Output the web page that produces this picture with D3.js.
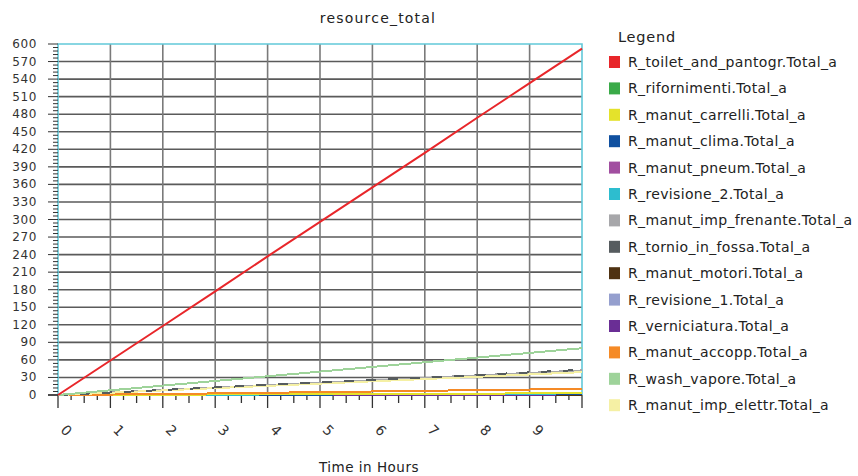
<!DOCTYPE html>
<html><head><meta charset="utf-8">
<script src="https://cdn.jsdelivr.net/npm/d3@7"></script>
<style>
html,body{margin:0;padding:0;background:#fff;}
svg{display:block;font-family:"DejaVu Sans",sans-serif;}
</style></head>
<body><svg id="c" width="858" height="476"></svg>
<script>
const title = "resource_total";
const xTitle = "Time in Hours";
const hours = [0,1,2,3,4,5,6,7,8,9,10];
const xTickLabels = ["0","1","2","3","4","5","6","7","8","9"];
const yTickValues = d3.range(0, 601, 30);

const seriesNames = [
  "R_toilet_and_pantogr.Total_a","R_rifornimenti.Total_a","R_manut_carrelli.Total_a",
  "R_manut_clima.Total_a","R_manut_pneum.Total_a","R_revisione_2.Total_a",
  "R_manut_imp_frenante.Total_a","R_tornio_in_fossa.Total_a","R_manut_motori.Total_a",
  "R_revisione_1.Total_a","R_verniciatura.Total_a","R_manut_accopp.Total_a",
  "R_wash_vapore.Total_a","R_manut_imp_elettr.Total_a"];
const seriesColors = ["#e8262a","#3aaa48","#e4e22b","#1050a0","#a14ea0","#2dbdcf",
  "#a7a7aa","#565c5f","#4f3212","#959fce","#6a2e95","#f58a26","#9ed39a","#f5f0a4"];

const toiletVals   = [0,59,118,177,237,296,355,414,474,533,592];
const rifornVals   = [0,0,0,0,0,0,0,0,0,0,0];
const carrelliVals = [0,0.3,0.6,0.9,1.2,1.5,1.8,2.1,2.4,2.7,3];
const climaVals    = [0,0,0.2,0.4,0.6,0.8,1,1.2,1.4,1.6,1.8];
const pneumVals    = [0,4.1,8.3,12.4,16.5,20.6,24.8,28.9,33,37.1,41.3];
const revis2Vals   = [0,0,0.3,0.6,0.9,1.2,1.5,1.8,2.1,2.4,2.7];
const frenanteVals = [0,4.2,8.4,12.6,16.8,21,25.2,29.4,33.6,37.8,42];
const tornioVals   = [0,4.3,8.6,12.9,17.2,21.5,25.8,30.1,34.4,38.7,43];
const motoriVals   = [0,0,0,0,0,0,0,0,0,0,0];
const revis1Vals   = [0,0,0.2,0.4,0.6,0.8,1,1.2,1.4,1.6,1.8];
const vernicVals   = [0,0,0.1,0.2,0.3,0.4,0.5,0.6,0.7,0.8,0.9];
const accoppVals   = [0,0.8,1.7,2.7,3.8,4.9,6,7.2,8.3,9.4,10.5];
const washVals     = [0,8,16,24,32,40,48,56,64,72,80];
const elettrVals   = [0,3.9,7.8,11.7,15.6,19.5,23.4,27.3,31.2,35.1,39];

const seriesValues = [toiletVals,rifornVals,carrelliVals,climaVals,pneumVals,revis2Vals,
  frenanteVals,tornioVals,motoriVals,revis1Vals,vernicVals,accoppVals,washVals,elettrVals];
// drawing order (background first)
const drawOrder = [1,8,10,9,3,5,2,11,4,6,13,7,12,0];

const svg = d3.select("#c");
const L = 58, R = 582, T = 44, B = 395;
const x = d3.scaleLinear().domain([0,10]).range([L,R]);
const y = d3.scaleLinear().domain([0,600]).range([B,T]);

// title
svg.append("text").attr("x",378).attr("y",23).attr("text-anchor","middle")
  .attr("font-size",14).attr("letter-spacing",1.2).attr("fill","#222").text(title);

// grid
const g = svg.append("g");
g.selectAll(".hg").data(yTickValues.filter(v=>v>0 && v<600)).join("line")
  .attr("x1",L).attr("x2",R).attr("y1",d=>y(d)).attr("y2",d=>y(d))
  .attr("stroke","#5a5a5a").attr("stroke-width",1.6);
g.selectAll(".vg").data(d3.range(1,10)).join("line")
  .attr("x1",d=>x(d)).attr("x2",d=>x(d)).attr("y1",T).attr("y2",B)
  .attr("stroke","#7a7a7a").attr("stroke-width",1.6);

// border
svg.append("path").attr("d",`M${L},${B}V${T}H${R}V${B}`).attr("fill","none")
  .attr("stroke","#62c9d9").attr("stroke-width",1.6);

// y axis ticks
const yAx = svg.append("g");
yAx.selectAll(".ymin").data(d3.range(0,601,6)).join("line")
  .attr("x1",d=>d%30===0?48:53).attr("x2",L).attr("y1",d=>y(d)).attr("y2",d=>y(d))
  .attr("stroke","#333").attr("stroke-width",1);
yAx.selectAll(".ylab").data(yTickValues).join("text")
  .attr("x",37).attr("y",d=>y(d)+4).attr("text-anchor","end")
  .attr("font-size",12).attr("letter-spacing",0.6).attr("fill","#333").text(d=>d);

// x axis ticks
const xAx = svg.append("g");
xAx.append("line").attr("x1",L-10).attr("x2",R).attr("y1",B).attr("y2",B).attr("stroke","#333").attr("stroke-width",1.5);
xAx.selectAll(".xt").data(d3.range(0,40.5,1)).join("line")
  .attr("x1",d=>x(d/4)).attr("x2",d=>x(d/4)).attr("y1",B)
  .attr("y2",d=>d%4===0?408:(d%2===0?403:400))
  .attr("stroke","#333").attr("stroke-width",1.3);
xAx.selectAll(".xl").data(xTickLabels).join("text")
  .attr("transform",(d,i)=>`translate(${x(i)+5},${434}) rotate(45)`)
  .attr("text-anchor","middle").attr("font-size",14).attr("fill","#333").text(d=>d);

svg.append("text").attr("x",369).attr("y",472).attr("text-anchor","middle")
  .attr("font-size",13.5).attr("letter-spacing",0.5).attr("fill","#222").text(xTitle);

// lines
const line = d3.line().x((d,i)=>x(hours[i])).y(d=>y(d));
svg.append("g").selectAll("path").data(drawOrder).join("path")
  .attr("d",k=>line(seriesValues[k])).attr("fill","none")
  .attr("stroke",k=>seriesColors[k]).attr("stroke-width",2)
  .attr("stroke-dasharray",k=>k===7?"10,12":null)
  .attr("shape-rendering",k=>k===0?"auto":"crispEdges");

// legend
const lg = svg.append("g");
lg.append("text").attr("x",618).attr("y",42).attr("font-size",14.5).attr("letter-spacing",0.8).attr("fill","#222").text("Legend");
const rowY = i => 62 + i*26.4;
lg.selectAll("rect").data(seriesNames).join("rect")
  .attr("x",609).attr("y",(d,i)=>rowY(i)-6).attr("width",11).attr("height",12)
  .attr("fill",(d,i)=>seriesColors[i]);
lg.selectAll(".lt").data(seriesNames).join("text")
  .attr("x",628).attr("y",(d,i)=>rowY(i)+5).attr("font-size",14).attr("letter-spacing",0.35)
  .attr("fill","#222").text(d=>d);
</script></body></html>
